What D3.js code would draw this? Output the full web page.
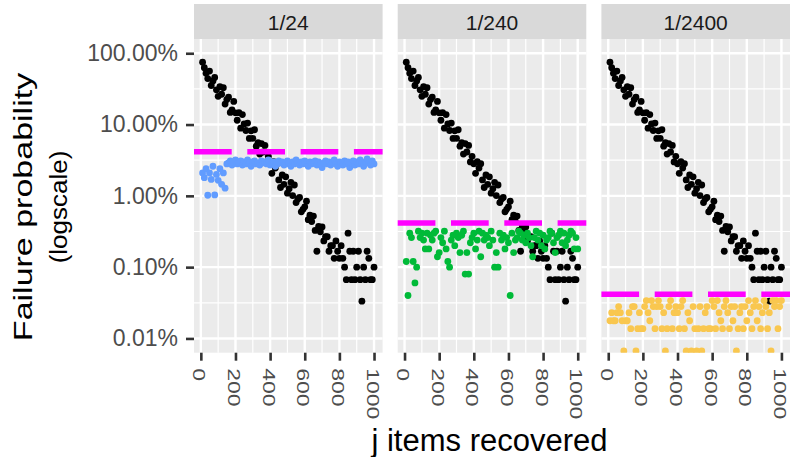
<!DOCTYPE html>
<html lang="en">
<head>
<meta charset="UTF-8">
<title>Failure probability vs j items recovered</title>
<script src="https://d3js.org/d3.v7.min.js"></script>
<style>
  body { margin: 0; background: #fff; }
  svg { display: block; font-family: "Liberation Sans", Arial, sans-serif; }
</style>
</head>
<body>
<svg id="chart" width="792" height="457"></svg>
<script>
// facet labels and the threshold drawn as the dashed line in each facet
const panelLabels = ["1/24", "1/240", "1/2400"];
const thresholds = [1 / 24, 1 / 240, 1 / 2400];
const pointColors = ["#619CFF", "#00BA38", "#F9C74F"];

// j items recovered (x positions of every series)
const jItems = d3.range(10, 1001, 10);

// black series (same in each facet)
const blackProb = [
  0.748, 0.627, 0.526, 0.441, 0.563, 0.353, 0.409, 0.458, 0.307, 0.249,
  0.339, 0.266, 0.329, 0.194, 0.224, 0.243, 0.148, 0.160, 0.211, 0.146,
  0.115, 0.147, 0.0890, 0.138, 0.102, 0.0825, 0.105, 0.0639, 0.0816, 0.0642,
  0.0846, 0.0497, 0.0557, 0.0385, 0.0541, 0.0412, 0.0509, 0.0299, 0.0358, 0.0282,
  0.0207, 0.0301, 0.0245, 0.0283, 0.0167, 0.0131, 0.0196, 0.0145, 0.0185, 0.0109,
  0.0126, 0.0155, 0.0101, 0.0142, 0.00805, 0.00903, 0.00950, 0.00596, 0.00647, 0.00702,
  0.00840, 0.00463, 0.00536, 0.00435, 0.00521, 0.00327, 0.00167, 0.00373, 0.00313, 0.00367,
  0.00233, 0.00267, 0.00267, 0.00167, 0.00200, 0.00200, 0.00133, 0.00233, 0.00167, 0.00133,
  0.00200, 0.00133, 0.00100, 0.000667, 0.00300, 0.00167, 0.000667, 0.00167, 0.000667, 0.00100,
  0.00167, 0.000667, 0.000333, 0.00100, 0.000667, 0.00167, 0.00133, 0.000667, 0.000667, 0.00100
];

// coloured series, one per facet
const blueProb = [
  0.021, 0.018, 0.024, 0.0102, 0.021, 0.017, 0.026, 0.0103, 0.020, 0.0165,
  0.024, 0.0145, 0.021, 0.0128, 0.028, 0.029, 0.031, 0.027, 0.030, 0.032,
  0.028, 0.029, 0.031, 0.027, 0.030, 0.028, 0.032, 0.029, 0.026, 0.030,
  0.031, 0.028, 0.029, 0.027, 0.031, 0.029, 0.030, 0.028, 0.032, 0.027,
  0.029, 0.030, 0.026, 0.028, 0.031, 0.029, 0.030, 0.027, 0.028, 0.031,
  0.029, 0.026, 0.030, 0.028, 0.032, 0.029, 0.027, 0.030, 0.028, 0.031,
  0.029, 0.026, 0.030, 0.028, 0.029, 0.031, 0.027, 0.030, 0.028, 0.025,
  0.029, 0.031, 0.028, 0.030, 0.027, 0.029, 0.032, 0.028, 0.026, 0.030,
  0.029, 0.027, 0.031, 0.028, 0.030, 0.025, 0.029, 0.031, 0.027, 0.030,
  0.028, 0.032, 0.029, 0.026, 0.030, 0.033, 0.029, 0.027, 0.031, 0.028
];
const greenProb = [
  0.0012, 0.0004, 0.0030, 0.0026, 0.0012, 0.0006, 0.0010, 0.0032, 0.0026, 0.0030,
  0.0024, 0.0018, 0.0030, 0.0018, 0.0028, 0.0024, 0.0030, 0.0032, 0.0014, 0.0016,
  0.0026, 0.0022, 0.0032, 0.0018, 0.0012, 0.0010, 0.0024, 0.0028, 0.0020, 0.0030,
  0.0026, 0.0016, 0.0028, 0.0032, 0.0008, 0.0016, 0.0008, 0.0022, 0.0026, 0.0030,
  0.0018, 0.0024, 0.0032, 0.0014, 0.0030, 0.0024, 0.0028, 0.0026, 0.0020, 0.0032,
  0.0024, 0.0010, 0.0016, 0.0010, 0.0030, 0.0024, 0.0028, 0.0018, 0.0026, 0.0022,
  0.0004, 0.0030, 0.0016, 0.0024, 0.0026, 0.0032, 0.0030, 0.0024, 0.0028, 0.0022,
  0.0030, 0.0026, 0.0020, 0.0014, 0.0026, 0.0032, 0.0024, 0.0030, 0.0020, 0.0028,
  0.0018, 0.0024, 0.0026, 0.0032, 0.0030, 0.0022, 0.0016, 0.0026, 0.0028, 0.0032,
  0.0022, 0.0030, 0.0020, 0.0024, 0.0028, 0.0032, 0.0030, 0.0018, 0.0026, 0.0018
];
const yellowProb = [
  1.77e-4, 2.3e-4, 1.77e-4, 1.77e-4, 2.3e-4, 2.8e-4, 2.3e-4, 1.77e-4, 6.67e-5, 1.77e-4,
  1.77e-4, 2.3e-4, 1.37e-4, 2.8e-4, 2.8e-4, 6.67e-5, 1.37e-4, 2.3e-4, 1.37e-4, 1.37e-4,
  2.8e-4, 3.4e-4, 2.3e-4, 1.77e-4, 3.4e-4, 2.8e-4, 1.37e-4, 2.8e-4, 3.4e-4, 2.8e-4,
  1.37e-4, 2.3e-4, 6.67e-5, 1.37e-4, 2.8e-4, 3.4e-4, 1.37e-4, 2.3e-4, 2.8e-4, 2.3e-4,
  1.37e-4, 2.8e-4, 3.4e-4, 1.37e-4, 6.67e-5, 2.3e-4, 1.77e-4, 6.67e-5, 2.8e-4, 1.37e-4,
  6.67e-5, 1.37e-4, 2.8e-4, 6.67e-5, 1.37e-4, 2.3e-4, 2.8e-4, 1.37e-4, 1.37e-4, 3.4e-4,
  2.8e-4, 1.37e-4, 3.4e-4, 2.3e-4, 1.77e-4, 1.37e-4, 2.8e-4, 3.4e-4, 2.3e-4, 1.37e-4,
  2.8e-4, 1.77e-4, 2.8e-4, 6.67e-5, 1.37e-4, 2.3e-4, 2.8e-4, 1.37e-4, 2.8e-4, 1.77e-4,
  3.4e-4, 2.3e-4, 1.37e-4, 2.8e-4, 3.4e-4, 1.77e-4, 2.8e-4, 1.37e-4, 2.3e-4, 3.4e-4,
  2.8e-4, 1.37e-4, 2.3e-4, 6.67e-5, 3.4e-4, 2.8e-4, 3.4e-4, 1.37e-4, 2.8e-4, 3.4e-4
];
const coloredSeries = [blueProb, greenProb, yellowProb];

// axes
const yTicks = [1, 0.1, 0.01, 0.001, 0.0001];
const yTickLabels = ["100.00%", "10.00%", "1.00%", "0.10%", "0.01%"];
const yMinor = [Math.pow(10, -0.5), Math.pow(10, -1.5), Math.pow(10, -2.5), Math.pow(10, -3.5)];
const xTicks = [0, 200, 400, 600, 800, 1000];
const xMinor = [100, 300, 500, 700, 900];

const svg = d3.select("#chart");
const panelLeft = [194, 397.7, 601.4];
const panelW = 188.6;
const stripTop = 4, plotTop = 39, plotBottom = 352.7;

const x = d3.scaleLinear().domain([-39.5, 1049.5]).range([0, panelW]);
const y = d3.scaleLog()
  .domain([Math.pow(10, -4.2), Math.pow(10, 0.2)])
  .range([plotBottom, plotTop]);

svg.append("defs").append("clipPath").attr("id", "panel-clip")
  .append("rect")
  .attr("x", 0).attr("y", plotTop)
  .attr("width", panelW).attr("height", plotBottom - plotTop);

panelLabels.forEach((label, i) => {
  const g = svg.append("g").attr("transform", `translate(${panelLeft[i]},0)`);

  // strip
  g.append("rect")
    .attr("x", 0).attr("y", stripTop)
    .attr("width", panelW).attr("height", plotTop - stripTop)
    .attr("fill", "#D9D9D9");
  g.append("text")
    .attr("x", panelW / 2).attr("y", 29.5)
    .attr("text-anchor", "middle")
    .attr("font-size", 21)
    .attr("fill", "#1A1A1A")
    .text(label);

  // panel background + grid
  g.append("rect")
    .attr("x", 0).attr("y", plotTop)
    .attr("width", panelW).attr("height", plotBottom - plotTop)
    .attr("fill", "#EBEBEB");
  g.selectAll(".ymin").data(yMinor).join("line")
    .attr("x1", 0).attr("x2", panelW)
    .attr("y1", d => y(d)).attr("y2", d => y(d))
    .attr("stroke", "#fff").attr("stroke-width", 1.2);
  g.selectAll(".xmin").data(xMinor).join("line")
    .attr("x1", d => x(d)).attr("x2", d => x(d))
    .attr("y1", plotTop).attr("y2", plotBottom)
    .attr("stroke", "#fff").attr("stroke-width", 1.2);
  g.selectAll(".ymaj").data(yTicks).join("line")
    .attr("x1", 0).attr("x2", panelW)
    .attr("y1", d => y(d)).attr("y2", d => y(d))
    .attr("stroke", "#fff").attr("stroke-width", 2.4);
  g.selectAll(".xmaj").data(xTicks).join("line")
    .attr("x1", d => x(d)).attr("x2", d => x(d))
    .attr("y1", plotTop).attr("y2", plotBottom)
    .attr("stroke", "#fff").attr("stroke-width", 2.4);

  // points
  const pts = g.append("g").attr("clip-path", "url(#panel-clip)");
  pts.selectAll(".blk").data(jItems.map((j, k) => [j, blackProb[k]])).join("circle")
    .attr("cx", d => x(d[0])).attr("cy", d => y(d[1]))
    .attr("r", 3.4).attr("fill", "#000");
  pts.selectAll(".col").data(jItems.map((j, k) => [j, coloredSeries[i][k]])).join("circle")
    .attr("cx", d => x(d[0])).attr("cy", d => y(d[1]))
    .attr("r", 3.4).attr("fill", pointColors[i]);

  // threshold line
  g.append("line")
    .attr("x1", 0).attr("x2", panelW)
    .attr("y1", y(thresholds[i])).attr("y2", y(thresholds[i]))
    .attr("stroke", "#FF00FF").attr("stroke-width", 5.5)
    .attr("stroke-dasharray", "37.7 15.6");

  // x axis
  const xAxis = g.append("g")
    .attr("transform", `translate(0,${plotBottom})`)
    .call(d3.axisBottom(x).tickValues(xTicks).tickSize(8).tickFormat(d3.format("d")));
  xAxis.select(".domain").remove();
  xAxis.selectAll(".tick line").attr("stroke", "#333").attr("stroke-width", 2.6);
  xAxis.selectAll(".tick text")
    .attr("x", null).attr("y", null).attr("dy", null)
    .attr("text-anchor", "start")
    .attr("transform", "translate(-8,15.5) rotate(90) scale(1,0.72)")
    .attr("font-size", 23)
    .attr("font-family", null)
    .attr("fill", "#4D4D4D");
});

// y axis on first facet
const yAxis = svg.append("g")
  .attr("transform", `translate(${panelLeft[0]},0)`)
  .call(d3.axisLeft(y).tickValues(yTicks).tickSize(8).tickPadding(8)
    .tickFormat((d, k) => yTickLabels[k]));
yAxis.select(".domain").remove();
yAxis.selectAll(".tick line").attr("stroke", "#333").attr("stroke-width", 2.6);
yAxis.selectAll(".tick text")
  .attr("font-size", 23)
  .attr("font-family", null)
  .attr("fill", "#4D4D4D");

// axis titles
svg.append("text")
  .attr("transform", "translate(31.7,207) rotate(-90) scale(1,0.76)")
  .attr("text-anchor", "middle")
  .attr("font-size", 34)
  .attr("fill", "#000")
  .text("Failure probability");
svg.append("text")
  .attr("transform", "translate(67,207) rotate(-90) scale(1,0.92)")
  .attr("text-anchor", "middle")
  .attr("font-size", 26)
  .attr("fill", "#000")
  .text("(logscale)");

svg.append("text")
  .attr("x", 489.5).attr("y", 451)
  .attr("text-anchor", "middle")
  .attr("font-size", 31)
  .attr("fill", "#000")
  .text("j items recovered");
</script>
</body>
</html>
